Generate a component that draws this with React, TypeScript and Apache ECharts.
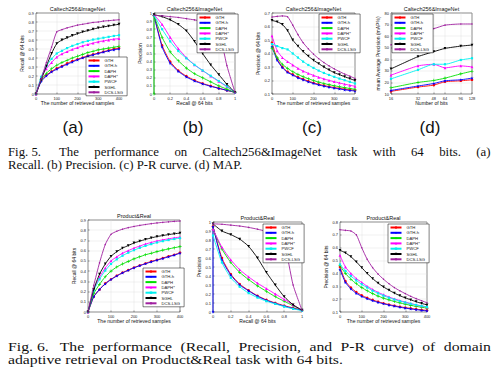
import React, { useEffect, useRef } from 'react';
import * as echarts from 'echarts';

const methods = ['GTH', 'GTH-h', 'DAPH', 'DAPH*', 'PWCF', 'SGHL', 'DCS-LSG'];
const samples = [0, 25, 50, 75, 100, 125, 150, 175, 200, 225, 250, 275, 300, 325, 350, 375, 400];
const recallLevels = [0, 0.1, 0.2, 0.3, 0.4, 0.5, 0.6, 0.7, 0.8, 0.9, 1];
const bits = [16, 32, 48, 64, 96, 128];
const bitTicks = [16, 32, 48, 64, 96, 128];

// (a) Caltech256&ImageNet recall
const caltechRecall = [
  [0, 0.15, 0.21, 0.25, 0.285, 0.31, 0.34, 0.365, 0.385, 0.405, 0.425, 0.44, 0.455, 0.47, 0.485, 0.5, 0.51],
  [0, 0.14, 0.2, 0.245, 0.275, 0.305, 0.33, 0.355, 0.38, 0.4, 0.42, 0.435, 0.45, 0.465, 0.48, 0.49, 0.5],
  [0, 0.16, 0.23, 0.28, 0.32, 0.35, 0.375, 0.4, 0.42, 0.44, 0.46, 0.475, 0.49, 0.5, 0.51, 0.52, 0.53],
  [0, 0.18, 0.28, 0.35, 0.41, 0.445, 0.47, 0.495, 0.515, 0.535, 0.55, 0.565, 0.58, 0.59, 0.6, 0.61, 0.615],
  [0, 0.19, 0.31, 0.39, 0.45, 0.48, 0.51, 0.535, 0.555, 0.575, 0.59, 0.605, 0.615, 0.625, 0.635, 0.645, 0.653],
  [0, 0.16, 0.31, 0.45, 0.56, 0.6, 0.625, 0.65, 0.67, 0.69, 0.705, 0.72, 0.735, 0.745, 0.755, 0.765, 0.775],
  [0, 0.17, 0.35, 0.52, 0.69, 0.715, 0.735, 0.75, 0.765, 0.775, 0.785, 0.795, 0.8, 0.81, 0.815, 0.82, 0.825],
];
// (b) Caltech256&ImageNet precision-recall
const caltechPR = [
  [0.97, 0.6, 0.4, 0.29, 0.22, 0.17, 0.13, 0.1, 0.07, 0.045, 0.02],
  [0.97, 0.58, 0.38, 0.28, 0.21, 0.16, 0.125, 0.095, 0.07, 0.045, 0.02],
  [0.97, 0.7, 0.52, 0.41, 0.32, 0.25, 0.2, 0.15, 0.1, 0.06, 0.02],
  [0.98, 0.86, 0.7, 0.56, 0.45, 0.36, 0.29, 0.22, 0.155, 0.09, 0.02],
  [0.97, 0.8, 0.65, 0.53, 0.44, 0.36, 0.29, 0.225, 0.16, 0.095, 0.02],
  [0.98, 0.955, 0.915, 0.86, 0.78, 0.65, 0.5, 0.36, 0.24, 0.12, 0.02],
  [0.97, 0.965, 0.955, 0.945, 0.93, 0.915, 0.895, 0.86, 0.78, 0.35, 0.02],
];
// (c) Caltech256&ImageNet precision vs samples
const caltechPrecision = [
  [0.48, 0.36, 0.3, 0.265, 0.245, 0.225, 0.21, 0.195, 0.183, 0.172, 0.163, 0.155, 0.148, 0.142, 0.136, 0.131, 0.127],
  [0.45, 0.35, 0.295, 0.26, 0.24, 0.22, 0.205, 0.19, 0.178, 0.167, 0.158, 0.15, 0.143, 0.137, 0.131, 0.126, 0.122],
  [0.44, 0.37, 0.32, 0.29, 0.265, 0.245, 0.228, 0.213, 0.2, 0.188, 0.178, 0.169, 0.161, 0.154, 0.147, 0.141, 0.135],
  [0.53, 0.42, 0.37, 0.34, 0.315, 0.29, 0.27, 0.253, 0.238, 0.224, 0.212, 0.201, 0.191, 0.182, 0.173, 0.165, 0.157],
  [0.47, 0.455, 0.44, 0.43, 0.4, 0.37, 0.34, 0.315, 0.293, 0.273, 0.256, 0.241, 0.227, 0.214, 0.202, 0.19, 0.178],
  [0.645, 0.635, 0.615, 0.57, 0.5, 0.455, 0.415, 0.38, 0.35, 0.325, 0.3, 0.278, 0.258, 0.243, 0.228, 0.214, 0.2],
  [0.67, 0.675, 0.678, 0.672, 0.61, 0.54, 0.48, 0.435, 0.395, 0.362, 0.333, 0.308, 0.286, 0.266, 0.248, 0.232, 0.215],
];
// (d) Caltech256&ImageNet MAP vs bits
const caltechMap = [
  [12.3, 16, 17.7, 20.6, 21.4, 22.3],
  [13.1, 16.9, 19.1, 21.4, 22.3, 23.7],
  [15.4, 20, 21.7, 23.7, 27.4, 29.7],
  [26.3, 34.3, 35.7, 32.6, 34.3, 33.4],
  [23.1, 30.9, 35.7, 35.7, 39.4, 40.9],
  [31.7, 42.3, 46.6, 49.4, 51.4, 52.3],
  [52.5, 64.5, 66.5, 69.5, 70.5, 70.5],
];
// (e) Product&Real recall
const productRecall = [
  [0, 0.15, 0.22, 0.28, 0.32, 0.355, 0.385, 0.41, 0.435, 0.455, 0.475, 0.495, 0.51, 0.527, 0.545, 0.56, 0.58],
  [0, 0.15, 0.22, 0.275, 0.318, 0.352, 0.382, 0.408, 0.432, 0.453, 0.472, 0.49, 0.507, 0.523, 0.54, 0.556, 0.575],
  [0, 0.18, 0.27, 0.345, 0.4, 0.44, 0.47, 0.495, 0.52, 0.54, 0.56, 0.575, 0.59, 0.605, 0.617, 0.628, 0.64],
  [0, 0.22, 0.34, 0.43, 0.5, 0.54, 0.575, 0.6, 0.625, 0.645, 0.665, 0.68, 0.695, 0.706, 0.716, 0.725, 0.733],
  [0, 0.21, 0.32, 0.405, 0.47, 0.515, 0.55, 0.58, 0.605, 0.627, 0.647, 0.664, 0.68, 0.693, 0.704, 0.714, 0.722],
  [0, 0.22, 0.37, 0.47, 0.545, 0.59, 0.625, 0.65, 0.675, 0.693, 0.71, 0.725, 0.738, 0.748, 0.757, 0.765, 0.772],
  [0, 0.26, 0.48, 0.66, 0.76, 0.79, 0.81, 0.825, 0.837, 0.847, 0.856, 0.864, 0.871, 0.877, 0.882, 0.886, 0.89],
];
// (f) Product&Real precision-recall
const productPR = [
  [0.95, 0.6, 0.42, 0.31, 0.24, 0.18, 0.135, 0.1, 0.07, 0.045, 0.02],
  [0.95, 0.58, 0.41, 0.3, 0.235, 0.175, 0.13, 0.095, 0.065, 0.04, 0.02],
  [0.92, 0.7, 0.55, 0.44, 0.36, 0.29, 0.23, 0.17, 0.12, 0.07, 0.02],
  [0.92, 0.72, 0.58, 0.47, 0.39, 0.32, 0.26, 0.2, 0.14, 0.08, 0.02],
  [0.85, 0.55, 0.38, 0.28, 0.21, 0.16, 0.12, 0.09, 0.06, 0.035, 0.015],
  [0.98, 0.9, 0.86, 0.81, 0.73, 0.6, 0.44, 0.3, 0.17, 0.08, 0.02],
  [0.98, 0.975, 0.965, 0.955, 0.94, 0.92, 0.895, 0.85, 0.76, 0.3, 0.02],
];
// (g) Product&Real precision vs samples
const productPrecision = [
  [0.45, 0.34, 0.29, 0.255, 0.23, 0.21, 0.194, 0.18, 0.168, 0.158, 0.149, 0.141, 0.134, 0.128, 0.122, 0.117, 0.112],
  [0.43, 0.33, 0.28, 0.245, 0.222, 0.203, 0.188, 0.175, 0.164, 0.154, 0.145, 0.137, 0.13, 0.124, 0.118, 0.113, 0.108],
  [0.46, 0.4, 0.355, 0.32, 0.29, 0.265, 0.243, 0.224, 0.208, 0.194, 0.182, 0.171, 0.161, 0.152, 0.144, 0.137, 0.13],
  [0.54, 0.45, 0.4, 0.36, 0.33, 0.3, 0.275, 0.253, 0.234, 0.217, 0.202, 0.189, 0.177, 0.166, 0.156, 0.147, 0.139],
  [0.47, 0.42, 0.38, 0.345, 0.315, 0.29, 0.265, 0.245, 0.227, 0.211, 0.197, 0.185, 0.174, 0.164, 0.155, 0.147, 0.14],
  [0.58, 0.56, 0.53, 0.49, 0.445, 0.4, 0.36, 0.325, 0.295, 0.27, 0.247, 0.227, 0.21, 0.195, 0.18, 0.167, 0.155],
  [0.74, 0.735, 0.73, 0.7, 0.6, 0.51, 0.445, 0.395, 0.355, 0.32, 0.29, 0.265, 0.243, 0.222, 0.204, 0.188, 0.172],
];

const panelTitles = ['Caltech256&ImageNet', 'Caltech256&ImageNet', 'Caltech256&ImageNet', 'Caltech256&ImageNet', 'Product&Real', 'Product&Real', 'Product&Real'];
const panelLetters = ['(a)', '(b)', '(c)', '(d)'];
const fig5Line1 = ['Fig. 5.', 'The', 'performance', 'on', 'Caltech256&ImageNet', 'task', 'with', '64', 'bits.', '(a)'];
const fig5Line2 = 'Recall. (b) Precision. (c) P-R curve. (d) MAP.';
const fig6Line1 = ['Fig. 6.', 'The', 'performance', '(Recall,', 'Precision,', 'and', 'P-R', 'curve)', 'of', 'domain'];
const fig6Line2 = 'adaptive retrieval on Product&Real task with 64 bits.';

const colors = ['#ff0000', '#0000ff', '#00e000', '#ff00ff', '#00f0f0', '#000000', '#a020a0'];
const STAR = 'path://M5,0L6.2,3.6L10,3.6L6.9,5.8L8.1,9.5L5,7.2L1.9,9.5L3.1,5.8L0,3.6L3.8,3.6Z';
const PLUS = 'path://M4,0H6V4H10V6H6V10H4V6H0V4H4Z';
const symbols = ['circle', STAR, PLUS, 'triangle', 'rect', 'triangle', 'circle'];
const symbolRotates = [0, 0, 0, 0, 0, 180, 0];
const symbolSizes = [2.6, 3.2, 3.2, 2.8, 2.2, 2.8, 1.4];

const SANS = 'Liberation Sans';
const SERIF = 'Liberation Serif';

const grids = [
  { left: 36, top: 13, width: 83, height: 81 },
  { left: 154, top: 13, width: 81, height: 81 },
  { left: 272, top: 13, width: 83, height: 81 },
  { left: 391, top: 13, width: 81, height: 81 },
  { left: 88, top: 220, width: 92, height: 92 },
  { left: 213, top: 222, width: 89, height: 90 },
  { left: 340, top: 222, width: 87, height: 90 },
];

let measureCtx: CanvasRenderingContext2D | null = null;
function textWidth(t: string, size: number) {
  if (!measureCtx) measureCtx = document.createElement('canvas').getContext('2d');
  measureCtx!.font = `${size}px "${SERIF}"`;
  return measureCtx!.measureText(t).width;
}

function capText(text: string, x: number, y: number, size: number, sx = 1) {
  return {
    type: 'text', x, y, scaleX: sx,
    style: { text, fontSize: size, lineHeight: 11, fontFamily: SERIF, fill: '#111', align: 'left', verticalAlign: 'middle' },
  };
}

function justifiedLine(words: string[], x0: number, x1: number, y: number, size: number, sx: number, extraFirst: number) {
  const ws = words.map((w) => textWidth(w, size) * sx);
  const total = ws.reduce((a, b) => a + b, 0);
  const gap = (x1 - x0 - total - extraFirst) / (words.length - 1);
  let x = x0;
  return words.map((w, i) => {
    const el = capText(w, x, y, size, sx);
    x += ws[i] + gap + (i === 0 ? extraFirst : 0);
    return el;
  });
}

function buildOption() {
  const tickFont = { fontSize: 4, color: '#222', fontFamily: SANS };
  const nameFont = { fontSize: 5, color: '#111', fontFamily: SANS };
  const split = { show: true, lineStyle: { color: '#dcdcdc', width: 0.4 } };
  const tick = { show: true, inside: true, length: 1.5, lineStyle: { color: '#000', width: 0.4 } };
  const line = { show: false };

  const mkX = (gi: number, min: number, max: number, interval: number, name: string, extra: any = {}) => ({
    type: 'value', gridIndex: gi, min, max, interval, name, nameLocation: 'middle', nameGap: 6,
    nameTextStyle: nameFont, axisLabel: { ...tickFont, margin: 2, ...(extra.axisLabel || {}) },
    axisTick: { ...tick, ...(extra.axisTick || {}) }, axisLine: line, splitLine: split,
  });
  const mkY = (gi: number, min: number, max: number, interval: number, name: string, gap = 9) => ({
    type: 'value', gridIndex: gi, min, max, interval, name, nameLocation: 'middle', nameGap: gap,
    nameTextStyle: nameFont, axisLabel: { ...tickFont, margin: 2 },
    axisTick: tick, axisLine: line, splitLine: split,
  });

  const bitPos = bits.map((b) => Math.log2(b));
  const bitTickPos = bitTicks.map((b) => Math.log2(b));
  const bitFmt = (v: number) => String(Math.round(Math.pow(2, v)));

  const xAxis = [
    mkX(0, 0, 400, 100, 'The number of retrieved samples'),
    mkX(1, 0, 1, 0.2, 'Recall @ 64 bits'),
    mkX(2, 0, 400, 100, 'The number of retrieved samples'),
    mkX(3, 4, 7, 1, 'Number of bits', {
      axisLabel: { customValues: bitTickPos, formatter: bitFmt },
      axisTick: { customValues: bitTickPos },
    }),
    mkX(4, 0, 400, 100, 'The number of retrieved samples'),
    mkX(5, 0, 1, 0.2, 'Recall @ 64 bits'),
    mkX(6, 0, 400, 100, 'The number of retrieved samples'),
  ];
  const yAxis = [
    mkY(0, 0, 0.9, 0.1, 'Recall @ 64 bits'),
    mkY(1, 0, 1, 0.1, 'Precision'),
    mkY(2, 0.1, 0.7, 0.1, 'Precision @ 64 bits'),
    mkY(3, 10, 80, 10, 'mean Average Precision (mAP%)', 7),
    mkY(4, 0, 0.9, 0.1, 'Recall @ 64 bits'),
    mkY(5, 0, 1, 0.1, 'Precision'),
    mkY(6, 0.1, 0.8, 0.1, 'Precision @ 64 bits'),
  ];

  const mkSeries = (gi: number, xs: number[], rows: number[][], zeroIdx = -1) =>
    rows.map((ys, i) => {
      const pts: number[][] = xs.map((x, j) => [x, ys[j]]);
      if (i === zeroIdx) pts.unshift([xs[0], 0]);
      return {
        type: 'line', name: methods[i], xAxisIndex: gi, yAxisIndex: gi, data: pts,
        smooth: 0.2, symbol: symbols[i], symbolRotate: symbolRotates[i], symbolSize: symbolSizes[i],
        showAllSymbol: true, clip: true,
        lineStyle: { color: colors[i], width: 0.9 }, itemStyle: { color: colors[i] },
        z: 2 + i * 0.01,
      };
    });

  const series = [
    ...mkSeries(0, samples, caltechRecall),
    ...mkSeries(1, recallLevels, caltechPR, 2),
    ...mkSeries(2, samples, caltechPrecision),
    ...mkSeries(3, bitPos, caltechMap),
    ...mkSeries(4, samples, productRecall),
    ...mkSeries(5, recallLevels, productPR, 1),
    ...mkSeries(6, samples, productPrecision),
  ];

  const legendPos = [
    { left: 86, top: 57 },
    { left: 197, top: 14 },
    { left: 319, top: 14 },
    { left: 392, top: 14 },
    { left: 143, top: 268 },
    { left: 263, top: 224 },
    { left: 388, top: 224 },
  ];
  const legend = legendPos.map((p) => ({
    ...p, orient: 'vertical', data: methods, selectedMode: false,
    itemWidth: 11, itemHeight: 3, itemGap: 1.3, itemTextGap: 3,
    padding: [1.5, 4, 1.5, 1.5], borderColor: '#000', borderWidth: 0.5, backgroundColor: '#fff',
    textStyle: { fontSize: 4.2, color: '#222', fontFamily: SANS },
  }));

  const titleTexts = grids.map((g, i) => ({
    type: 'text', x: g.left + g.width / 2, y: g.top - 4,
    style: { text: panelTitles[i], fontSize: 5.5, fontFamily: SANS, fill: '#111', align: 'center', verticalAlign: 'middle' },
  }));

  const letterX = [73, 193, 312, 430];
  const letters = panelLetters.map((t, i) => ({
    type: 'text', x: letterX[i], y: 127,
    style: { text: t, fontSize: 17, fontFamily: SANS, fill: '#111', align: 'center', verticalAlign: 'middle' },
  }));

  const fs = 12.8;
  const f6sx = 335 / textWidth(fig6Line2, fs);
  const captions = [
    ...justifiedLine(fig5Line1, 8, 490.5, 152, fs, 1, 2.5),
    capText(fig5Line2, 8, 165, fs),
    ...justifiedLine(fig6Line1, 8, 491, 347, fs, f6sx, 2.5),
    capText(fig6Line2, 8, 360, fs, f6sx),
  ];

  return {
    animation: false,
    backgroundColor: '#fff',
    grid: grids.map((g) => ({ ...g, show: true, borderColor: '#000', borderWidth: 0.5, backgroundColor: '#fff', containLabel: false })),
    xAxis, yAxis, series, legend,
    graphic: { elements: [...titleTexts, ...letters, ...captions] },
  };
}

export default function App() {
  const ref = useRef<HTMLDivElement>(null);
  useEffect(() => {
    document.body.style.margin = '0';
    const chart = echarts.init(ref.current!, null, { renderer: 'svg', width: 500, height: 381 });
    chart.setOption(buildOption() as any);
    return () => chart.dispose();
  }, []);
  return <div ref={ref} style={{ width: 500, height: 381, background: '#fff' }} />;
}
